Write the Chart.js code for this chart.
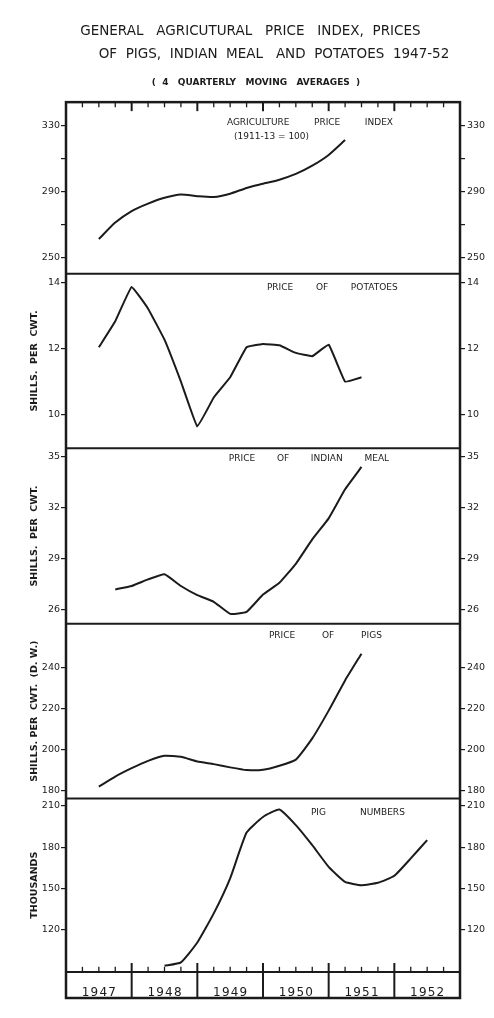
<!DOCTYPE html>
<html>
<head>
<meta charset="utf-8">
<script src="https://cdn.jsdelivr.net/npm/chart.js@4/dist/chart.umd.min.js"></script>
<style>
  html, body { margin: 0; padding: 0; background: #fff; }
</style>
</head>
<body>
<canvas id="chart" width="494" height="1018"></canvas>
<script>
// quarterly points (4 quarterly moving averages), x in years
const quarters = [1947.5, 1947.75, 1948, 1948.25, 1948.5, 1948.75, 1949, 1949.25, 1949.5, 1949.75,
                  1950, 1950.25, 1950.5, 1950.75, 1951, 1951.25, 1951.5, 1951.75, 1952, 1952.25, 1952.5];
const years = [1947, 1948, 1949, 1950, 1951, 1952];

const priceIndex  = [261, 271, 278, 282.5, 286, 288, 287, 286.5, 288.5, 292, 294.5, 297, 300.5, 305.5, 312, 321,
                     null, null, null, null, null];
const potatoPrice = [12.04, 12.83, 13.87, 13.21, 12.27, 11.0, 9.64, 10.52, 11.13, 12.04, 12.14, 12.1, 11.87, 11.77, 12.12, 11.0, 11.13,
                     null, null, null, null];
const mealPrice   = [null, 27.18, 27.38, 27.77, 28.07, 27.38, 26.84, 26.45, 25.74, 25.86, 26.88, 27.57, 28.69, 30.13, 31.37, 33.08, 34.4,
                     null, null, null, null];
const pigPrice    = [181.8, 186.7, 190.8, 194.4, 196.9, 196.4, 194.1, 192.8, 191.2, 189.9, 190.0, 192, 195, 205.4, 219, 233.8, 246.9,
                     null, null, null, null];
const pigNumbers  = [null, null, null, null, 93.5, 96.0, 110.5, 131.7, 157.3, 190.6, 202, 207.4, 196, 181.4, 165.6, 154.7, 152.3,
                     154, 159.1, 171.8, 185.1];

const indexTicks = [250, 270, 290, 310, 330];
const indexLabelled = [250, 290, 330];
const potatoTicks = [10, 12, 14];
const mealTicks = [26, 29, 32, 35];
const pigPriceTicks = [180, 200, 220, 240];
const pigNumberTicks = [120, 150, 180, 210];

const ink = '#1b1b1b';
const fontFamily = "'DejaVu Sans', sans-serif";

const panels = [
  { values: priceIndex, min: 240, max: 344, ticks: indexTicks, labelled: indexLabelled, weight: 171, axisTitle: '', tension: 0.2,
    heading: [{ words: ['AGRICULTURE', 'PRICE', 'INDEX'], from: 1949.45, to: 1951.98, dy: 21 },
              { words: ['(1911-13 = 100)'], from: 1950.13, to: 1950.13, dy: 35 }] },
  { values: potatoPrice, min: 8.98, max: 14.27, ticks: potatoTicks, weight: 174, axisTitle: 'SHILLS.  PER  CWT.', tension: 0.08,
    heading: [{ words: ['PRICE', 'OF', 'POTATOES'], from: 1950.06, to: 1952.05, dy: 14 }] },
  { values: mealPrice, min: 25.15, max: 35.5, ticks: mealTicks, weight: 175, axisTitle: 'SHILLS.  PER  CWT.', tension: 0.12,
    heading: [{ words: ['PRICE', 'OF', 'INDIAN', 'MEAL'], from: 1949.48, to: 1951.92, dy: 10 }] },
  { values: pigPrice, min: 176, max: 261.5, ticks: pigPriceTicks, weight: 174, axisTitle: 'SHILLS. PER  CWT.  (D. W.)', tension: 0.15,
    heading: [{ words: ['PRICE', 'OF', 'PIGS'], from: 1950.09, to: 1951.81, dy: 12 }] },
  { values: pigNumbers, min: 89, max: 215.5, ticks: pigNumberTicks, weight: 173, axisTitle: 'THOUSANDS', tension: 0.15,
    heading: [{ words: ['PIG', 'NUMBERS'], from: 1950.73, to: 1952.16, dy: 14 }] }
];

const scales = {
  x: {
    type: 'linear', min: 1947, max: 1953,
    grid: { display: false }, border: { display: false },
    afterBuildTicks: s => { s.ticks = years.map(y => ({ value: y + 0.5 })); },
    afterFit: s => { s.height = 26; },
    ticks: {
      autoSkip: false, maxRotation: 0, padding: 6, color: ink,
      font: { size: 12 },
      callback: v => String(Math.floor(v)).split('').join('\u200a')
    }
  }
};

panels.forEach((p, i) => {
  const base = {
    type: 'linear', min: p.min, max: p.max, stackWeight: p.weight,
    border: { display: false },
    grid: { display: true, drawOnChartArea: false, drawTicks: true, tickLength: 5, color: ink, lineWidth: 1.2 },
    afterBuildTicks: s => { s.ticks = p.ticks.map(v => ({ value: v })); },
    ticks: {
      autoSkip: false, color: ink, font: { size: 9.5 },
      callback: v => (!p.labelled || p.labelled.includes(v)) ? v : ''
    }
  };
  scales['L' + i] = Object.assign({}, base, {
    position: 'left', stack: 'left', weight: panels.length - i,
    afterFit: s => { s.width = 66; },
    ticks: Object.assign({}, base.ticks, { padding: 1 }),
    title: { display: !!p.axisTitle, text: p.axisTitle, color: ink,
             font: { size: 9.5, weight: 'bold' }, padding: { top: 29, bottom: 0 } }
  });
  scales['R' + i] = Object.assign({}, base, {
    position: 'right', stack: 'right', weight: i,
    afterFit: s => { s.width = 34; },
    ticks: Object.assign({}, base.ticks, { padding: 2 })
  });
});

const framePlugin = {
  id: 'frame',
  afterDraw(chart) {
    const { ctx, chartArea: a, scales: sc } = chart;
    const xs = sc.x;
    const boxBottom = xs.bottom;
    const line = (x1, y1, x2, y2) => { ctx.beginPath(); ctx.moveTo(x1, y1); ctx.lineTo(x2, y2); ctx.stroke(); };
    ctx.save();
    ctx.strokeStyle = ink;
    ctx.lineCap = 'square';

    ctx.lineWidth = 2.5;
    ctx.strokeRect(a.left, a.top, a.right - a.left, boxBottom - a.top);
    ctx.lineWidth = 2;
    panels.forEach((p, i) => { if (i) line(a.left, sc['L' + i].top, a.right, sc['L' + i].top); });
    line(a.left, a.bottom, a.right, a.bottom);
    years.slice(1).forEach(y => {
      const px = xs.getPixelForValue(y);
      line(px, a.bottom, px, boxBottom);
    });

    // quarter ticks along top and bottom edges
    years.concat([1953]).forEach(y => {
      [0, 0.25, 0.5, 0.75].forEach(q => {
        const v = y + q;
        if (v <= 1947 || v >= 1953) return;
        const px = xs.getPixelForValue(v);
        const len = q === 0 ? 8 : 4.5;
        ctx.lineWidth = q === 0 ? 2 : 1.3;
        line(px, a.top, px, a.top + len);
        line(px, a.bottom, px, a.bottom - len);
      });
    });

    // panel headings
    ctx.fillStyle = ink;
    ctx.font = '9px ' + fontFamily;
    ctx.textBaseline = 'middle';
    panels.forEach((p, i) => {
      const top = sc['L' + i].top;
      p.heading.forEach(h => {
        const x0 = xs.getPixelForValue(h.from);
        const x1 = xs.getPixelForValue(h.to);
        const y = top + h.dy;
        if (h.words.length === 1) {
          ctx.textAlign = 'center';
          ctx.fillText(h.words[0], (x0 + x1) / 2, y);
          return;
        }
        const widths = h.words.map(w => ctx.measureText(w).width);
        const total = widths.reduce((s, w) => s + w, 0);
        const gap = (x1 - x0 - total) / (h.words.length - 1);
        let x = x0;
        ctx.textAlign = 'left';
        h.words.forEach((w, k) => { ctx.fillText(w, x, y); x += widths[k] + gap; });
      });
    });
    ctx.restore();
  }
};

Chart.defaults.font.family = fontFamily;
Chart.defaults.color = ink;

new Chart(document.getElementById('chart'), {
  type: 'line',
  data: {
    datasets: panels.map((p, i) => ({
      data: quarters.map((q, k) => ({ x: q, y: p.values[k] })),
      xAxisID: 'x', yAxisID: 'L' + i,
      borderColor: ink, borderWidth: 2, pointRadius: 0, tension: p.tension, fill: false, spanGaps: false
    }))
  },
  options: {
    responsive: false, animation: false, devicePixelRatio: 1,
    layout: { padding: { top: 0, bottom: 20, left: 0, right: 0 } },
    scales: scales,
    plugins: {
      legend: { display: false },
      tooltip: { enabled: false },
      title: {
        display: true, color: ink,
        text: ['\u2002GENERAL   AGRICUTURAL   PRICE   INDEX,  PRICES',
               '\u2003\u2003\u2003\u2003OF  PIGS,  INDIAN  MEAL   AND  POTATOES  1947-52'],
        font: { size: 13.5, weight: 'normal', lineHeight: 1.72 },
        padding: { top: 20, bottom: 0 }
      },
      subtitle: {
        display: true, color: ink,
        text: '\u2003\u2003(  4   QUARTERLY   MOVING   AVERAGES  )',
        font: { size: 9, weight: 'bold', lineHeight: 1.3 },
        padding: { top: 10, bottom: 14 }
      }
    }
  },
  plugins: [framePlugin]
});
</script>
</body>
</html>
